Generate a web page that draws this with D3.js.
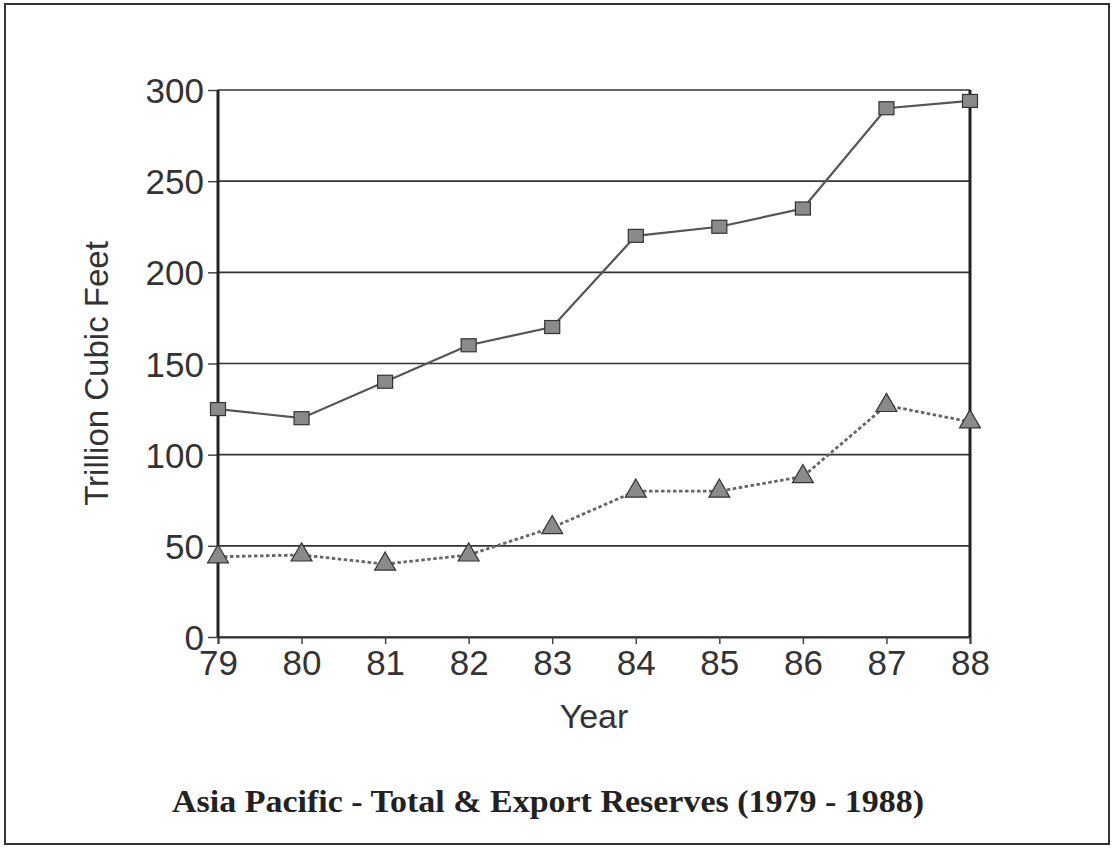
<!DOCTYPE html>
<html>
<head>
<meta charset="utf-8">
<script src="https://cdn.jsdelivr.net/npm/d3@7"></script>
<style>
  body { margin: 0; background: #fff; }
  .tick text { font-family: "Liberation Sans", Arial, sans-serif; fill: #333; }
  .label { font-family: "Liberation Sans", Arial, sans-serif; fill: #333; }
  .title { font-family: "Liberation Serif", "Times New Roman", serif; font-weight: bold; fill: #222; }
</style>
</head>
<body>
<div class="flex-container"></div>
<script>
var width = 1116;
var height = 848;

var margin = { "top": 90,
               "bottom": 211,
               "left": 218,
               "right": 146 };

// data
var years = [79, 80, 81, 82, 83, 84, 85, 86, 87, 88];
var totalReserves = [125, 120, 140, 160, 170, 220, 225, 235, 290, 294];
var exportReserves = [44, 45, 40, 45, 60, 80, 80, 88, 127, 118];
var yTicks = [0, 50, 100, 150, 200, 250, 300];

var innerW = width - margin.left - margin.right;
var innerH = height - margin.top - margin.bottom;

var svg = d3.select(".flex-container")
              .append("svg")
              .attr("width", width)
              .attr("height", height);

// page frame
svg.append("rect")
    .attr("x", 5)
    .attr("y", 4)
    .attr("width", 1104)
    .attr("height", 840)
    .attr("fill", "none")
    .attr("stroke", "#333")
    .attr("stroke-width", 2);

var g = svg.append("g")
            .attr("transform", "translate(" + margin.left + "," + margin.top + ")");

var scaleX = d3.scaleLinear().domain([79, 88]).range([0, innerW]);
var scaleY = d3.scaleLinear().domain([0, 300]).range([innerH, 0]);

// gridlines + y axis
var yAxis = d3.axisLeft(scaleY)
               .tickValues(yTicks)
               .tickSize(10)
               .tickPadding(4);

g.append("g")
  .attr("class", "yAxis")
  .call(yAxis)
  .call(function(s) {
    s.select(".domain").remove();
    s.selectAll(".tick line").attr("stroke", "#444").attr("stroke-width", 1.5);
    s.selectAll(".tick text").attr("font-size", 35).attr("dy", "0.36em");
  });

g.append("g")
  .selectAll("line")
  .data(yTicks)
  .enter()
  .append("line")
  .attr("x1", 0)
  .attr("x2", innerW)
  .attr("y1", function(d) { return scaleY(d) })
  .attr("y2", function(d) { return scaleY(d) })
  .attr("stroke", "#333")
  .attr("stroke-width", 1.6);

// x axis
var xAxis = d3.axisBottom(scaleX)
               .tickValues(years)
               .tickSize(7)
               .tickPadding(6)
               .tickFormat(d3.format("d"));

g.append("g")
  .attr("class", "xAxis")
  .attr("transform", "translate(0," + innerH + ")")
  .call(xAxis)
  .call(function(s) {
    s.select(".domain").attr("stroke", "#333").attr("stroke-width", 2);
    s.selectAll(".tick line").attr("stroke", "#444").attr("stroke-width", 1.5);
    s.selectAll(".tick text").attr("font-size", 35);
  });

// left and right frame of plot
g.append("line")
  .attr("x1", 0).attr("x2", 0)
  .attr("y1", scaleY(300)).attr("y2", scaleY(0))
  .attr("stroke", "#222").attr("stroke-width", 3);

g.append("line")
  .attr("x1", innerW).attr("x2", innerW)
  .attr("y1", scaleY(300)).attr("y2", scaleY(0))
  .attr("stroke", "#222").attr("stroke-width", 3);

// lines
var line = d3.line()
              .x(function(d, i) { return scaleX(years[i]) })
              .y(function(d) { return scaleY(d) });

g.append("path")
  .datum(totalReserves)
  .attr("d", line)
  .attr("fill", "none")
  .attr("stroke", "#555")
  .attr("stroke-width", 2.2);

g.append("path")
  .datum(exportReserves)
  .attr("d", line)
  .attr("fill", "none")
  .attr("stroke", "#666")
  .attr("stroke-width", 2.8)
  .attr("stroke-dasharray", "3.5,2.5");

// markers
g.selectAll(".sq")
  .data(totalReserves)
  .enter()
  .append("rect")
  .attr("class", "sq")
  .attr("x", function(d, i) { return scaleX(years[i]) - 7.5 })
  .attr("y", function(d) { return scaleY(d) - 6.5 })
  .attr("width", 15)
  .attr("height", 13)
  .attr("fill", "#8a8a8a")
  .attr("stroke", "#333")
  .attr("stroke-width", 1.2);

var tri = d3.symbol().type(d3.symbolTriangle).size(190);

g.selectAll(".tri")
  .data(exportReserves)
  .enter()
  .append("path")
  .attr("class", "tri")
  .attr("d", tri)
  .attr("transform", function(d, i) { return "translate(" + scaleX(years[i]) + "," + scaleY(d) + ")" })
  .attr("fill", "#8a8a8a")
  .attr("stroke", "#333")
  .attr("stroke-width", 1.2);

// axis labels
g.append("text")
  .attr("class", "label")
  .attr("x", innerW / 2)
  .attr("y", innerH + 91)
  .attr("text-anchor", "middle")
  .attr("font-size", 34)
  .text("Year");

g.append("text")
  .attr("class", "label")
  .attr("transform", "translate(-110," + (innerH / 2 + 10) + ") rotate(270)")
  .attr("text-anchor", "middle")
  .attr("font-size", 33)
  .text("Trillion Cubic Feet");

svg.append("text")
  .attr("class", "title")
  .attr("x", 548)
  .attr("y", 812)
  .attr("text-anchor", "middle")
  .attr("font-size", 31)
  .attr("textLength", 752)
  .attr("lengthAdjust", "spacingAndGlyphs")
  .text("Asia Pacific - Total & Export Reserves (1979 - 1988)");
</script>
</body>
</html>
